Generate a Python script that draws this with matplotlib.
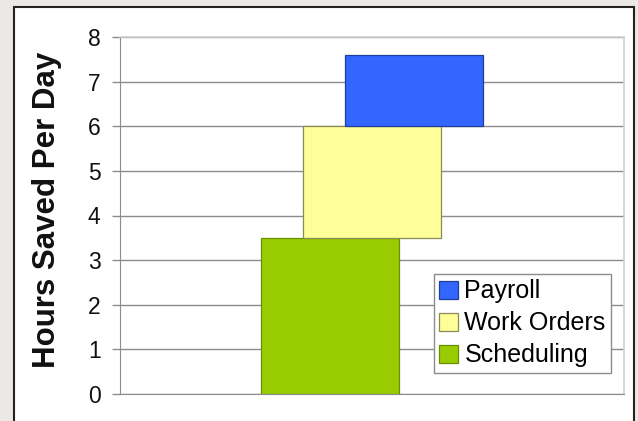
import matplotlib.pyplot as plt
from matplotlib.patches import Rectangle

plt.rcParams["font.family"] = ["Liberation Sans", "DejaVu Sans"]

# data: each category is a floating segment stacked on the previous one
categories = ["Scheduling", "Work Orders", "Payroll"]
hours = [3.5, 2.5, 1.6]
colors = ["#99cc00", "#ffff99", "#3366ff"]
edges = ["#6b8f00", "#8a8a55", "#1f3f99"]
yticks = [0, 1, 2, 3, 4, 5, 6, 7, 8]

_BG = "#ebe8e5"
_GRID = "#8c8c8c"

fig = plt.figure(figsize=(6.38, 4.21), dpi=100)
fig.set_facecolor(_BG)

# white slide panel with dark border
panel = Rectangle((14 / 638, -0.05), (634 - 14) / 638, 1.05 - 7 / 421,
                  transform=fig.transFigure, facecolor="white",
                  edgecolor="#222222", linewidth=1.5, zorder=-10)
fig.patches.append(panel)

ax = fig.add_axes([120 / 638, 27 / 421, 504 / 638, 357 / 421])
ax.set_facecolor("white")

bottom = 0.0
for i, (name, h, c, ec) in enumerate(zip(categories, hours, colors, edges)):
    ax.bar(i, h, bottom=bottom, width=3.3, color=c, edgecolor=ec,
           linewidth=0.9, label=name, zorder=3)
    bottom += h

ax.set_xlim(-5, 7)
ax.set_ylim(0, 8)
ax.set_yticks(yticks)
ax.set_xticks([])
ax.grid(axis="y", color=_GRID, linewidth=1.0, zorder=0)
ax.set_axisbelow(True)

for s in ("top", "right"):
    ax.spines[s].set_color("#cfcfcf")
    ax.spines[s].set_linewidth(1.2)
ax.spines["left"].set_color(_GRID)
ax.spines["bottom"].set_color(_GRID)
ax.tick_params(axis="y", length=6, width=1, color=_GRID, pad=8,
               labelsize=16.5, labelcolor="#111111")

ax.set_ylabel("Hours Saved Per Day", fontsize=22.5, fontweight="bold",
              color="#111111")
ax.yaxis.set_label_coords(-0.115, 0.515)

handles, labels = ax.get_legend_handles_labels()
leg = ax.legend(handles[::-1], labels[::-1], loc="lower left",
                bbox_to_anchor=(0.623, 0.059), fontsize=18, frameon=True,
                fancybox=False, edgecolor="#8c8c8c", framealpha=1,
                handlelength=0.75, handleheight=0.75, handletextpad=0.25,
                labelspacing=0.32, borderpad=0.22, borderaxespad=0)
leg.get_frame().set_linewidth(1.0)

fig.savefig("out.png", dpi=100, facecolor=_BG)
